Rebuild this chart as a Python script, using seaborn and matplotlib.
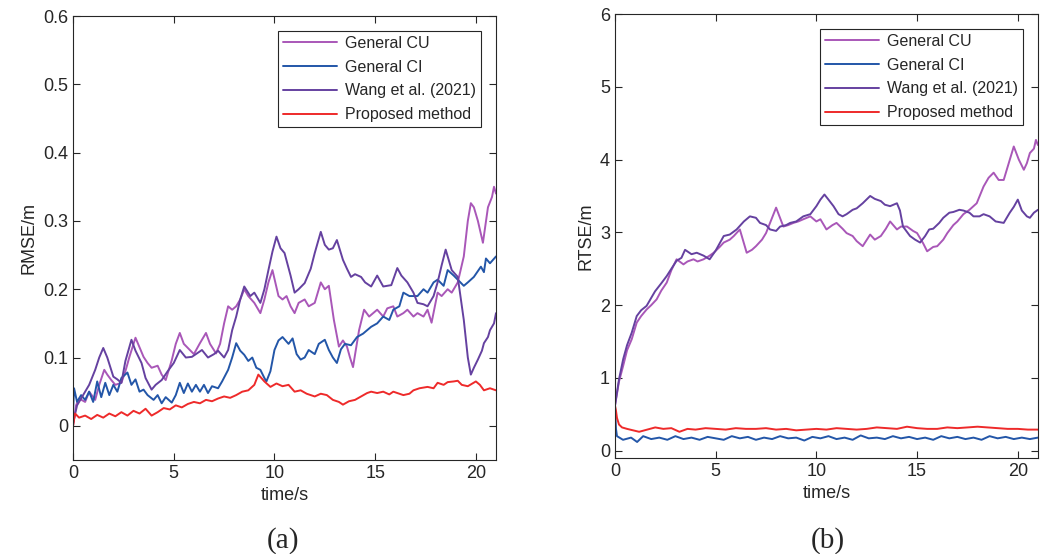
import matplotlib
matplotlib.use("Agg")
import matplotlib.pyplot as plt
import matplotlib.ticker as mticker
import pandas as pd
import seaborn as sns

# ---- data ----
methods = ["General CU", "General CI", "Wang et al. (2021)", "Proposed method"]
colors = ["#A957B8", "#2356A8", "#6541A0", "#EE2A2A"]

# (a) RMSE
t_cu_a = [0, 0.15, 0.3, 0.6, 0.8, 1.1, 1.3, 1.55, 1.7, 1.9, 2.1, 2.4, 2.6, 2.8, 3.1, 3.3, 3.5, 3.7, 3.9, 4.2,
          4.4, 4.6, 4.9, 5.1, 5.3, 5.5, 5.8, 6.0, 6.3, 6.6, 6.8, 7.1, 7.3, 7.5, 7.7, 7.9, 8.1, 8.3, 8.5, 8.7,
          9.0, 9.3, 9.5, 9.7, 9.9, 10.2, 10.4, 10.6, 10.8, 11.0, 11.2, 11.5, 11.7, 12.0, 12.3, 12.5, 12.7, 12.95,
          13.2, 13.4, 13.6, 13.75, 13.9, 14.2, 14.45, 14.7, 14.9, 15.1, 15.4, 15.6, 15.9, 16.1, 16.4, 16.6, 16.9,
          17.1, 17.4, 17.6, 17.8, 18.1, 18.3, 18.6, 18.8, 19.1, 19.4, 19.6, 19.75, 19.9, 20.1, 20.35, 20.6, 20.8,
          20.9, 21.0]
cu_a = [0.0, 0.03, 0.04, 0.035, 0.05, 0.038, 0.06, 0.082, 0.075, 0.067, 0.06, 0.063, 0.08, 0.101, 0.129, 0.115,
        0.101, 0.092, 0.085, 0.088, 0.075, 0.067, 0.096, 0.12, 0.136, 0.12, 0.111, 0.105, 0.121, 0.136, 0.12,
        0.106, 0.12, 0.15, 0.175, 0.17, 0.175, 0.185, 0.2, 0.19, 0.18, 0.165, 0.185, 0.21, 0.228, 0.19, 0.185,
        0.19, 0.175, 0.165, 0.18, 0.185, 0.175, 0.18, 0.21, 0.2, 0.205, 0.155, 0.116, 0.125, 0.116, 0.1, 0.086,
        0.14, 0.17, 0.16, 0.165, 0.17, 0.16, 0.172, 0.175, 0.16, 0.165, 0.17, 0.16, 0.165, 0.16, 0.17, 0.151,
        0.195, 0.19, 0.2, 0.195, 0.21, 0.248, 0.3, 0.326, 0.32, 0.3, 0.268, 0.32, 0.335, 0.35, 0.34]

t_ci_a = [0, 0.05, 0.2, 0.4, 0.6, 0.8, 1.0, 1.2, 1.4, 1.6, 1.8, 2.0, 2.2, 2.4, 2.7, 2.9, 3.1, 3.3, 3.5, 3.7,
          4.0, 4.2, 4.4, 4.6, 4.9, 5.1, 5.3, 5.5, 5.7, 5.9, 6.1, 6.3, 6.5, 6.7, 6.9, 7.2, 7.4, 7.7, 7.9, 8.1,
          8.3, 8.5, 8.7, 8.9, 9.1, 9.3, 9.5, 9.6, 9.8, 10.0, 10.2, 10.4, 10.7, 10.9, 11.1, 11.3, 11.5, 11.7,
          12.0, 12.2, 12.5, 12.7, 12.9, 13.1, 13.3, 13.5, 13.8, 14.1, 14.4, 14.8, 15.1, 15.4, 15.7, 15.9, 16.2,
          16.4, 16.7, 17.1, 17.4, 17.6, 17.9, 18.1, 18.4, 18.6, 18.9, 19.1, 19.4, 19.6, 19.9, 20.25, 20.4, 20.5,
          20.7, 21.0]
ci_a = [0.02, 0.055, 0.035, 0.045, 0.038, 0.05, 0.035, 0.065, 0.042, 0.063, 0.045, 0.06, 0.05, 0.07, 0.078,
        0.06, 0.068, 0.05, 0.053, 0.045, 0.038, 0.045, 0.033, 0.042, 0.034, 0.045, 0.063, 0.048, 0.062, 0.05,
        0.06, 0.05, 0.06, 0.048, 0.058, 0.055, 0.065, 0.082, 0.1, 0.121, 0.11, 0.104, 0.095, 0.1, 0.085, 0.082,
        0.07, 0.065, 0.08, 0.111, 0.125, 0.13, 0.12, 0.128, 0.105, 0.097, 0.1, 0.111, 0.105, 0.12, 0.126, 0.111,
        0.1, 0.092, 0.112, 0.12, 0.118, 0.13, 0.135, 0.145, 0.15, 0.16, 0.155, 0.17, 0.175, 0.195, 0.19, 0.19,
        0.2, 0.195, 0.21, 0.214, 0.205, 0.228, 0.22, 0.214, 0.205, 0.21, 0.218, 0.233, 0.225, 0.245, 0.238, 0.248]

t_wang_a = [0, 0.2, 0.5, 0.8, 1.1, 1.3, 1.5, 1.7, 2.0, 2.2, 2.4, 2.6, 2.9, 3.1, 3.4, 3.6, 3.9, 4.1, 4.4, 4.7,
            5.0, 5.3, 5.6, 5.9, 6.1, 6.4, 6.7, 7.0, 7.2, 7.5, 7.7, 7.9, 8.1, 8.3, 8.5, 8.8, 9.0, 9.3, 9.5, 9.7,
            9.9, 10.1, 10.3, 10.5, 10.8, 11.0, 11.2, 11.5, 11.8, 12.0, 12.3, 12.5, 12.7, 12.9, 13.1, 13.4, 13.6,
            13.8, 14.0, 14.3, 14.5, 14.8, 15.1, 15.4, 15.8, 16.1, 16.3, 16.6, 16.9, 17.1, 17.4, 17.6, 17.9, 18.1,
            18.3, 18.5, 18.8, 19.1, 19.4, 19.6, 19.75, 19.9, 20.1, 20.3, 20.4, 20.6, 20.7, 20.9, 21.0]
wang_a = [0.004, 0.03, 0.045, 0.06, 0.082, 0.1, 0.114, 0.1, 0.072, 0.068, 0.063, 0.095, 0.126, 0.11, 0.092,
          0.07, 0.053, 0.06, 0.067, 0.08, 0.092, 0.111, 0.1, 0.101, 0.105, 0.111, 0.1, 0.105, 0.11, 0.1, 0.111,
          0.14, 0.16, 0.185, 0.204, 0.19, 0.195, 0.18, 0.2, 0.228, 0.255, 0.277, 0.26, 0.253, 0.22, 0.195, 0.2,
          0.209, 0.23, 0.253, 0.284, 0.265, 0.258, 0.26, 0.272, 0.243, 0.23, 0.218, 0.222, 0.218, 0.21, 0.204,
          0.22, 0.204, 0.206, 0.231, 0.22, 0.21, 0.195, 0.18, 0.178, 0.175, 0.19, 0.21, 0.235, 0.258, 0.228,
          0.218, 0.155, 0.1, 0.075, 0.085, 0.097, 0.11, 0.121, 0.13, 0.14, 0.15, 0.165]

t_prop_a = [0, 0.1, 0.3, 0.6, 0.9, 1.2, 1.5, 1.8, 2.1, 2.4, 2.7, 3.0, 3.3, 3.6, 3.9, 4.2, 4.5, 4.8, 5.1, 5.4,
            5.7, 6.0, 6.3, 6.6, 6.9, 7.2, 7.5, 7.8, 8.1, 8.4, 8.7, 9.0, 9.2, 9.5, 9.8, 10.1, 10.4, 10.7, 11.0,
            11.3, 11.6, 12.0, 12.3, 12.6, 12.9, 13.2, 13.4, 13.7, 14.0, 14.3, 14.6, 14.8, 15.1, 15.4, 15.7, 15.9,
            16.2, 16.4, 16.7, 16.9, 17.2, 17.6, 17.9, 18.1, 18.4, 18.6, 18.9, 19.1, 19.3, 19.6, 20.0, 20.2, 20.4,
            20.7, 21.0]
prop_a = [0.0, 0.018, 0.012, 0.015, 0.01, 0.016, 0.012, 0.018, 0.014, 0.02, 0.015, 0.022, 0.018, 0.025, 0.015,
          0.02, 0.026, 0.024, 0.03, 0.027, 0.032, 0.035, 0.033, 0.038, 0.036, 0.04, 0.043, 0.041, 0.045, 0.05,
          0.052, 0.06, 0.075, 0.065, 0.057, 0.062, 0.058, 0.06, 0.05, 0.052, 0.047, 0.043, 0.047, 0.045, 0.038,
          0.035, 0.031, 0.036, 0.038, 0.043, 0.048, 0.05, 0.048, 0.05, 0.046, 0.05, 0.047, 0.045, 0.047, 0.052,
          0.055, 0.057, 0.055, 0.063, 0.06, 0.064, 0.065, 0.066, 0.06, 0.058, 0.065, 0.06, 0.052, 0.055, 0.052]

# (b) RTSE
t_cu_b = [0, 0.2, 0.41, 0.6, 0.83, 1.08, 1.3, 1.57, 1.8, 2.07, 2.3, 2.57, 2.8, 3.06, 3.4, 3.6, 3.9, 4.1, 4.4,
          4.7, 4.9, 5.2, 5.4, 5.7, 5.9, 6.2, 6.54, 6.8, 7.0, 7.3, 7.5, 7.8, 8.0, 8.36, 8.6, 8.86, 9.1, 9.35, 9.7,
          10.0, 10.2, 10.5, 10.8, 11.0, 11.3, 11.5, 11.8, 12.0, 12.3, 12.67, 12.9, 13.2, 13.45, 13.66, 14.0, 14.2,
          14.5, 14.8, 15.0, 15.3, 15.5, 15.8, 16.0, 16.3, 16.5, 16.8, 17.0, 17.3, 17.6, 17.96, 18.3, 18.55, 18.8,
          19.05, 19.3, 19.55, 19.8, 20.05, 20.3, 20.45, 20.6, 20.8, 20.9, 21.0]
cu_b = [0.62, 0.95, 1.17, 1.38, 1.53, 1.76, 1.85, 1.94, 2.0, 2.08, 2.2, 2.31, 2.48, 2.63, 2.56, 2.6, 2.63, 2.6,
        2.63, 2.68, 2.72, 2.8, 2.86, 2.9, 2.95, 3.04, 2.72, 2.76, 2.81, 2.9, 2.99, 3.2, 3.34, 3.08, 3.1, 3.13,
        3.15, 3.18, 3.22, 3.15, 3.18, 3.04, 3.1, 3.13, 3.05, 2.99, 2.95, 2.88, 2.81, 2.97, 2.9, 2.95, 3.05, 3.15,
        3.04, 3.08, 3.08, 3.02, 2.99, 2.85, 2.74, 2.8, 2.81, 2.9, 2.99, 3.1, 3.15, 3.25, 3.31, 3.4, 3.63, 3.75,
        3.82, 3.72, 3.72, 3.95, 4.18, 4.0, 3.86, 3.95, 4.09, 4.15, 4.27, 4.2]

t_ci_b = [0, 0.05, 0.1, 0.4, 0.8, 1.1, 1.4, 1.8, 2.2, 2.6, 3.0, 3.4, 3.8, 4.2, 4.6, 5.0, 5.4, 5.8, 6.2, 6.6,
          7.0, 7.4, 7.8, 8.2, 8.6, 9.0, 9.4, 9.8, 10.2, 10.6, 11.0, 11.4, 11.8, 12.2, 12.6, 13.0, 13.4, 13.8,
          14.2, 14.6, 15.0, 15.4, 15.8, 16.2, 16.6, 17.0, 17.4, 17.8, 18.2, 18.6, 19.0, 19.4, 19.8, 20.2, 20.6, 21.0]
ci_b = [0.62, 0.3, 0.2, 0.15, 0.18, 0.12, 0.2, 0.16, 0.18, 0.15, 0.2, 0.16, 0.18, 0.15, 0.19, 0.17, 0.15, 0.2,
        0.17, 0.19, 0.15, 0.18, 0.16, 0.2, 0.17, 0.18, 0.14, 0.19, 0.17, 0.2, 0.16, 0.18, 0.15, 0.21, 0.17, 0.18,
        0.16, 0.2, 0.17, 0.19, 0.16, 0.18, 0.15, 0.2, 0.17, 0.19, 0.16, 0.18, 0.15, 0.2, 0.17, 0.19, 0.16, 0.18,
        0.16, 0.18]

t_wang_b = [0, 0.2, 0.41, 0.6, 0.83, 1.08, 1.3, 1.57, 1.8, 1.99, 2.3, 2.57, 2.8, 3.06, 3.3, 3.48, 3.8, 4.06,
            4.4, 4.7, 5.0, 5.4, 5.7, 6.04, 6.4, 6.7, 7.0, 7.2, 7.5, 7.7, 8.0, 8.2, 8.5, 8.7, 9.0, 9.35, 9.7, 10.0,
            10.2, 10.4, 10.6, 10.85, 11.1, 11.3, 11.5, 11.8, 12.0, 12.3, 12.67, 12.9, 13.2, 13.4, 13.66, 14.0,
            14.15, 14.3, 14.65, 14.9, 15.15, 15.4, 15.6, 15.8, 16.1, 16.3, 16.6, 16.8, 17.1, 17.3, 17.6, 17.8,
            18.1, 18.3, 18.6, 18.9, 19.3, 19.6, 19.8, 20.0, 20.2, 20.45, 20.6, 20.8, 21.0]
wang_b = [0.62, 0.98, 1.26, 1.45, 1.62, 1.85, 1.93, 1.99, 2.1, 2.19, 2.3, 2.4, 2.5, 2.61, 2.65, 2.76, 2.7, 2.72,
          2.68, 2.63, 2.75, 2.95, 2.97, 3.04, 3.15, 3.22, 3.2, 3.13, 3.1, 3.04, 3.02, 3.08, 3.1, 3.13, 3.15, 3.22,
          3.25, 3.36, 3.45, 3.52, 3.45, 3.36, 3.25, 3.22, 3.25, 3.31, 3.33, 3.4, 3.5, 3.46, 3.43, 3.38, 3.36, 3.4,
          3.3, 3.08, 2.95, 2.9, 2.86, 2.95, 3.04, 3.05, 3.13, 3.2, 3.27, 3.28, 3.31, 3.3, 3.27, 3.22, 3.22, 3.25,
          3.22, 3.15, 3.13, 3.27, 3.35, 3.45, 3.3, 3.22, 3.2, 3.27, 3.31]

t_prop_b = [0, 0.05, 0.1, 0.2, 0.35, 0.6, 0.9, 1.2, 1.6, 2.0, 2.4, 2.8, 3.2, 3.6, 4.0, 4.5, 5.0, 5.5, 6.0, 6.5,
            7.0, 7.5, 8.0, 8.5, 9.0, 9.5, 10.0, 10.5, 11.0, 11.5, 12.0, 12.5, 13.0, 13.5, 14.0, 14.5, 15.0, 15.5,
            16.0, 16.5, 17.0, 17.5, 18.0, 18.5, 19.0, 19.5, 20.0, 20.5, 21.0]
prop_b = [0.62, 0.55, 0.45, 0.36, 0.32, 0.3, 0.28, 0.26, 0.29, 0.32, 0.3, 0.31, 0.26, 0.3, 0.29, 0.31, 0.3, 0.29,
          0.31, 0.3, 0.3, 0.31, 0.29, 0.3, 0.28, 0.29, 0.3, 0.29, 0.31, 0.3, 0.29, 0.3, 0.32, 0.31, 0.3, 0.33,
          0.31, 0.3, 0.3, 0.32, 0.31, 0.32, 0.33, 0.32, 0.31, 0.3, 0.3, 0.29, 0.29]


def long_df(pairs):
    frames = []
    for name, (t, v) in zip(methods, pairs):
        frames.append(pd.DataFrame({"time": t, "err": v, "method": name}))
    return pd.concat(frames, ignore_index=True)


df_a = long_df([(t_cu_a, cu_a), (t_ci_a, ci_a), (t_wang_a, wang_a), (t_prop_a, prop_a)])
df_b = long_df([(t_cu_b, cu_b), (t_ci_b, ci_b), (t_wang_b, wang_b), (t_prop_b, prop_b)])

sns.set_style("ticks")
plt.rcParams["font.family"] = ["Liberation Sans", "DejaVu Sans"]
plt.rcParams["axes.edgecolor"] = "#262626"
plt.rcParams["xtick.color"] = "#262626"
plt.rcParams["ytick.color"] = "#262626"

fig = plt.figure(figsize=(10.48, 5.54), dpi=100)
ax1 = fig.add_axes([0.0697, 0.1697, 0.4036, 0.8014])
ax2 = fig.add_axes([0.5868, 0.1733, 0.4036, 0.8014])

palette = dict(zip(methods, colors))

for ax, df, ylab, ylim, yt in [
    (ax1, df_a, "RMSE/m", (-0.05, 0.6), [0, 0.1, 0.2, 0.3, 0.4, 0.5, 0.6]),
    (ax2, df_b, "RTSE/m", (-0.1, 6), [0, 1, 2, 3, 4, 5, 6]),
]:
    sns.lineplot(data=df, x="time", y="err", hue="method", hue_order=methods, palette=palette,
                 estimator=None, sort=False, lw=1.4, ax=ax)
    ax.set_xlim(0, 21)
    ax.set_ylim(*ylim)
    ax.set_xticks([0, 5, 10, 15, 20])
    ax.set_yticks(yt)
    ax.yaxis.set_major_formatter(mticker.FuncFormatter(lambda v, _: f"{v:g}"))
    ax.tick_params(direction="in", top=True, right=True, length=5, width=0.8, labelsize=13)
    ax.set_xlabel("time/s", fontsize=13)
    ax.set_ylabel(ylab, fontsize=13)
    for s in ax.spines.values():
        s.set_linewidth(0.8)
    leg = ax.legend(loc="upper right", bbox_to_anchor=(1 - 15 / 423, 1 - 15 / 444), borderaxespad=0,
                    fontsize=11.5, fancybox=False, framealpha=1, edgecolor="#262626",
                    handlelength=3.4, handletextpad=0.5, labelspacing=0.55, borderpad=0.3)
    leg.get_frame().set_linewidth(0.8)

fig.text(0.27, 0.025, "(a)", ha="center", va="center", fontsize=21, family="Liberation Serif")
fig.text(0.79, 0.025, "(b)", ha="center", va="center", fontsize=21, family="Liberation Serif")

fig.savefig("out.png", dpi=100)
